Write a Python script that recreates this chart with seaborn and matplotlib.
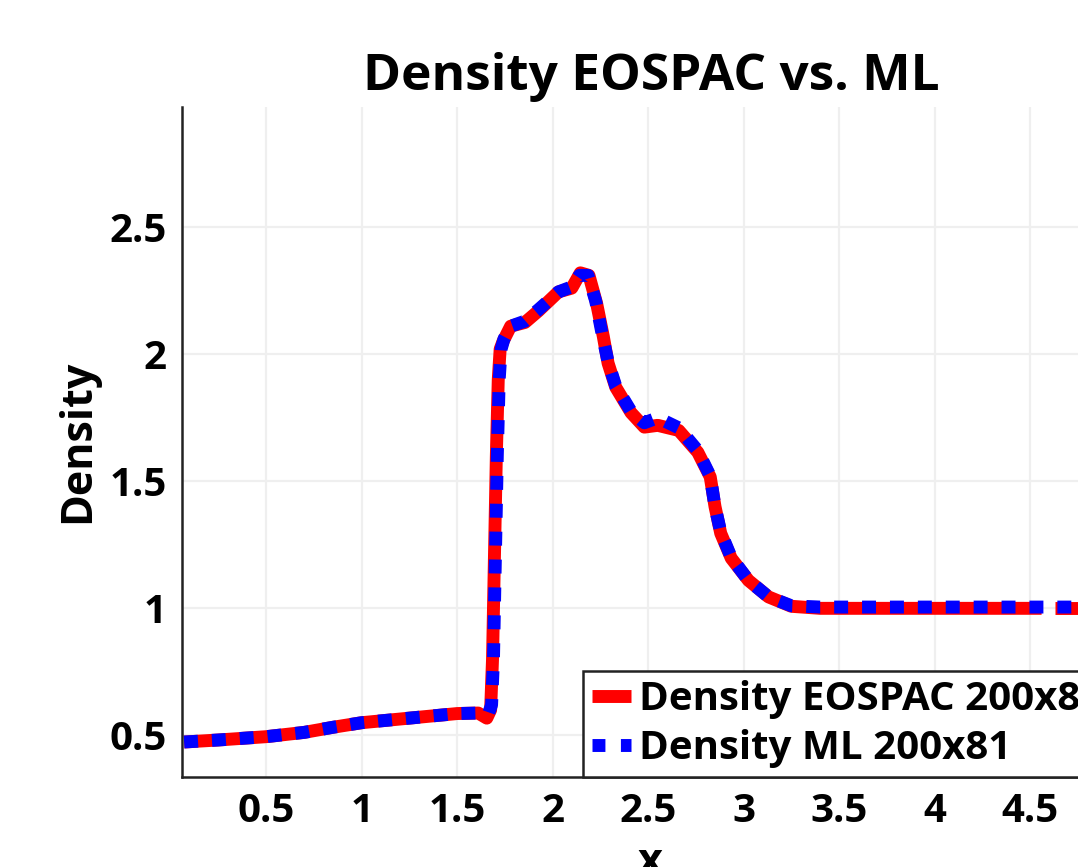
import numpy as np
import pandas as pd
import matplotlib
matplotlib.use('Agg')
import matplotlib.pyplot as plt
from matplotlib.lines import Line2D
import seaborn as sns

# Density along x, EOSPAC reference (segment 1 and 2 split by the small gap near x=4.6)
eos_x = [0.07, 0.25, 0.5, 0.7, 0.85, 1.0, 1.25, 1.5, 1.61, 1.655, 1.675, 1.685,
         1.695, 1.705, 1.715, 1.725, 1.74, 1.78, 1.855, 1.925, 2.03, 2.10, 2.145,
         2.19, 2.23, 2.265, 2.29, 2.33, 2.41, 2.48, 2.55, 2.66, 2.76, 2.825, 2.85,
         2.88, 2.935, 3.025, 3.13, 3.25, 3.4, 4.0, 4.56, 4.63, 4.95]
eos_y = [0.474, 0.482, 0.495, 0.512, 0.532, 0.55, 0.568, 0.586, 0.588, 0.568, 0.60, 0.80,
         1.20, 1.60, 1.90, 2.02, 2.05, 2.11, 2.125, 2.17, 2.245, 2.26, 2.32,
         2.31, 2.20, 2.07, 1.965, 1.87, 1.77, 1.713, 1.72, 1.70, 1.614, 1.517, 1.40,
         1.295, 1.197, 1.11, 1.045, 1.008, 1.0, 1.0, 1.0, 1.0, 1.0]
eos_seg = [0] * 43 + [1] * 2

# Density along x, ML prediction
ml_x = [0.07, 0.25, 0.5, 0.7, 0.85, 1.0, 1.25, 1.5, 1.61, 1.665, 1.68, 1.69,
        1.70, 1.71, 1.72, 1.73, 1.745, 1.78, 1.855, 1.925, 2.03, 2.10, 2.14,
        2.185, 2.225, 2.26, 2.29, 2.33, 2.41, 2.48, 2.55, 2.66, 2.76, 2.825, 2.85,
        2.88, 2.935, 3.025, 3.13, 3.25, 3.4, 4.0, 4.95]
ml_y = [0.474, 0.482, 0.495, 0.512, 0.532, 0.55, 0.568, 0.586, 0.588, 0.588, 0.62, 0.80,
        1.20, 1.60, 1.90, 2.02, 2.06, 2.11, 2.13, 2.175, 2.245, 2.265, 2.31,
        2.31, 2.21, 2.075, 1.97, 1.875, 1.775, 1.73, 1.75, 1.71, 1.62, 1.52, 1.40,
        1.30, 1.20, 1.11, 1.045, 1.01, 1.005, 1.005, 1.005]

labels = ['Density EOSPAC 200x81', 'Density ML 200x81']
y_ticks = [0.5, 1, 1.5, 2, 2.5]
x_ticks = [0.5, 1, 1.5, 2, 2.5, 3, 3.5, 4, 4.5]

df_eos = pd.DataFrame({'x': eos_x, 'Density': eos_y, 'seg': eos_seg})
df_ml = pd.DataFrame({'x': ml_x, 'Density': ml_y, 'seg': 0})

sns.set_style('white')
plt.rcParams['font.family'] = ['Open Sans', 'DejaVu Sans']
plt.rcParams['font.weight'] = 'bold'
plt.rcParams['text.color'] = 'black'
plt.rcParams['axes.labelcolor'] = 'black'
plt.rcParams['xtick.color'] = 'black'
plt.rcParams['ytick.color'] = 'black'

fig = plt.figure(figsize=(10.78, 8.67), dpi=100)
ax = fig.add_axes([0.169, 0.104, 0.861, 0.773])

lw = 9.3
sns.lineplot(data=df_eos, x='x', y='Density', units='seg', estimator=None, sort=False,
             color='#ff0000', linewidth=lw, solid_capstyle='butt', ax=ax, legend=False)
sns.lineplot(data=df_ml, x='x', y='Density', units='seg', estimator=None, sort=False,
             color='#0000ff', linewidth=lw, linestyle=(0, (1.08, 1.08)),
             dash_capstyle='butt', ax=ax, legend=False)

ax.set_xlim(0.06, 4.92)
ax.set_ylim(0.337, 2.974)
ax.set_xticks(x_ticks)
ax.set_yticks(y_ticks)
ax.set_xticklabels([f'{v:g}' for v in x_ticks])
ax.set_yticklabels([f'{v:g}' for v in y_ticks])
ax.grid(True, color='#efefef', linewidth=1.6)
ax.set_axisbelow(True)

for side in ['top', 'right']:
    ax.spines[side].set_visible(False)
for side in ['left', 'bottom']:
    ax.spines[side].set_color('#222222')
    ax.spines[side].set_linewidth(1.8)
ax.tick_params(axis='both', direction='out', length=7, width=1.8, color='#222222',
               labelsize=29, pad=4)

ax.set_xlabel('x', fontsize=31, fontweight='bold')
ax.set_ylabel('Density', fontsize=31, fontweight='bold')
ax.xaxis.set_label_coords(0.504, -0.095)
ax.yaxis.set_label_coords(-0.09, 0.5)

fig.text(651 / 1078, 1 - 77 / 867, 'Density EOSPAC vs. ML', fontsize=37,
         fontweight='bold', ha='center', va='center')

handles = [
    Line2D([], [], color='#ff0000', linewidth=lw, solid_capstyle='butt'),
    Line2D([], [], color='#0000ff', linewidth=lw, linestyle=(0, (1.0, 1.2)),
           dash_capstyle='butt'),
]
leg = fig.legend(handles, labels, loc='lower left',
                 bbox_to_anchor=(582.7 / 1078, 90.3 / 867), bbox_transform=fig.transFigure,
                 borderaxespad=0, fontsize=29, handlelength=0.97, handletextpad=0.2,
                 borderpad=0.22, labelspacing=0.25, fancybox=False, framealpha=1,
                 edgecolor='#222222')
leg.get_frame().set_linewidth(1.8)

fig.savefig('out.png', dpi=100)
